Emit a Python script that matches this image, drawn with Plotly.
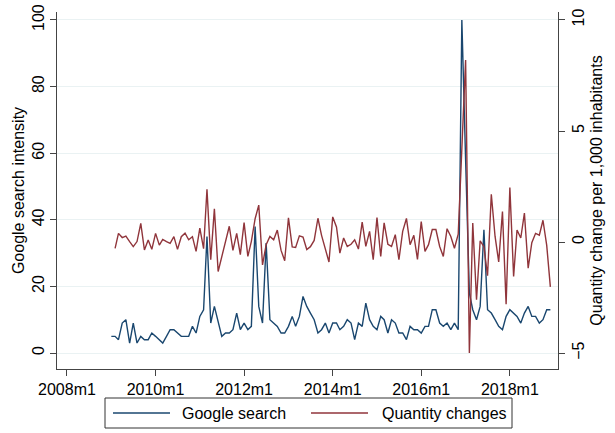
import plotly.graph_objects as go
import pandas as pd

months = pd.date_range("2009-01-01", "2018-12-01", freq="MS")

google_search = [5, 5, 4, 9, 10, 3, 9, 3, 5, 4, 4, 6, 5, 4, 3, 5, 7, 7, 6, 5,
                 5, 5, 8, 6, 11, 13, 35, 9, 14, 9, 5, 6, 6, 7, 12, 7, 9, 7, 8, 38,
                 14, 9, 33, 10, 9, 8, 6, 6, 8, 11, 8, 11, 17, 14, 12, 10, 6, 7, 9, 6,
                 9, 9, 7, 8, 10, 9, 4, 9, 8, 15, 10, 8, 7, 11, 10, 6, 10, 9, 6, 6,
                 4, 8, 7, 7, 6, 8, 8, 13, 13, 9, 8, 9, 7, 9, 7, 100, 58, 18, 13, 10,
                 14, 37, 13, 12, 10, 8, 7, 11, 13, 12, 11, 9, 12, 14, 11, 11, 9, 10, 13, 13]

quantity_changes = [None,
                    -0.29, 0.39, 0.2, 0.27, 0.02, -0.21, 0.02, 0.84, -0.36, 0.09,
                    -0.33, 0.39, -0.14, 0.12, 0.02, -0.06, 0.24, -0.33, 0.24, 0.4,
                    0.1, 0.24, -0.42, 0.63, -0.3, 2.38, -0.8, 1.5, -1.33, -0.68,
                    0.07, 0.71, -0.38, 0.39, -0.57, 0.87, -0.65, 0.03, 1.05, 1.66,
                    -1.03, -0.12, 0.25, 0.1, 0.54, -0.38, -0.84, 1.09, -0.22, -0.25,
                    0.28, 0.22, -0.34, -0.21, 0.07, 1.07, 0.3, -0.35, -0.9, 1.13,
                    0.68, -0.5, 0.18, -0.2, -0.1, 0.1, -0.32, 0.9, -0.2, 0.48,
                    -0.8, 1.1, -0.65, 0.86, -0.1, -0.2, 0.33, -0.8, 0.48, 1.06,
                    -0.12, 0.3, -0.78, 0.92, -0.42, -0.12, 0.56, 0.56, -0.2, -0.65,
                    0.6, 0.25, -0.28, 0.35, 4.0, 8.2, -5.0, 0.86, -2.6, 0.05,
                    -0.21, -1.52, 2.15, 0.25, -0.9, 1.37, -2.8, 2.45, -1.55, 0.54,
                    0.18, 1.3, -1.18, -0.03, 0.39, 0.31, 0.98, -0.15, -2.02]

x_tick_vals = ["2008-01-01", "2010-01-01", "2012-01-01", "2014-01-01", "2016-01-01", "2018-01-01"]
x_tick_text = ["2008m1", "2010m1", "2012m1", "2014m1", "2016m1", "2018m1"]
left_ticks = [0, 20, 40, 60, 80, 100]
right_ticks = [-5, 0, 5, 10]

BLUE = "#1A476F"
RED = "#90353B"
FONT = "Liberation Sans, Arial, sans-serif"

fig = go.Figure()
fig.add_trace(go.Scatter(x=months, y=google_search, mode="lines", name="Google search",
                         line=dict(color=BLUE, width=1.4), yaxis="y"))
fig.add_trace(go.Scatter(x=months, y=quantity_changes, mode="lines", name="Quantity changes",
                         line=dict(color=RED, width=1.4), yaxis="y2", connectgaps=False))

axis_common = dict(showline=True, linecolor="#444", linewidth=1, ticks="outside",
                   ticklen=6, tickcolor="#444", zeroline=False, automargin=False,
                   tickfont=dict(size=16, color="black", family=FONT))

fig.update_layout(
    width=615, height=433,
    margin=dict(l=57, r=57, t=12, b=64, autoexpand=False),
    paper_bgcolor="white", plot_bgcolor="white",
    showlegend=False,
    font=dict(family=FONT, size=16, color="black"),
    xaxis=dict(type="date", range=["2007-10-11", "2019-02-02"],
               tickvals=x_tick_vals, ticktext=x_tick_text, showgrid=False,
               **axis_common),
    yaxis=dict(range=[-4.8, 102.4], tickvals=left_ticks, tickangle=-90,
               showgrid=True, gridcolor="#EAF2F3", gridwidth=1,
               title=dict(text="Google search intensity", standoff=0,
                          font=dict(size=16, family=FONT)),
               **axis_common),
    yaxis2=dict(range=[-5.72, 10.36], tickvals=right_ticks, tickangle=-90,
                overlaying="y", side="right", showgrid=False,
                title=dict(text="Quantity change per 1,000 inhabitants", standoff=4,
                           font=dict(size=16, family=FONT)),
                **axis_common),
)

# Legend box drawn in paper coordinates
def px_x(p):
    return (p - 57) / 501.0

def px_y(p):
    return (369 - p) / 357.0

fig.add_shape(type="rect", xref="paper", yref="paper",
              x0=px_x(105), x1=px_x(512), y0=px_y(428), y1=px_y(398),
              line=dict(color="#333", width=1), fillcolor="white", layer="above")
ly = px_y(413)
fig.add_shape(type="line", xref="paper", yref="paper", x0=px_x(113), x1=px_x(170),
              y0=ly, y1=ly, line=dict(color=BLUE, width=1.4))
fig.add_shape(type="line", xref="paper", yref="paper", x0=px_x(311), x1=px_x(368),
              y0=ly, y1=ly, line=dict(color=RED, width=1.4))
fig.add_annotation(xref="paper", yref="paper", x=px_x(180), y=ly, text="Google search",
                   showarrow=False, xanchor="left", yanchor="middle",
                   font=dict(size=16, family=FONT, color="black"))
fig.add_annotation(xref="paper", yref="paper", x=px_x(380), y=ly, text="Quantity changes",
                   showarrow=False, xanchor="left", yanchor="middle",
                   font=dict(size=16, family=FONT, color="black"))

fig.write_html("out.html", config={"displayModeBar": False},
               post_script="document.body.style.margin='0';document.body.style.overflow='hidden';")
